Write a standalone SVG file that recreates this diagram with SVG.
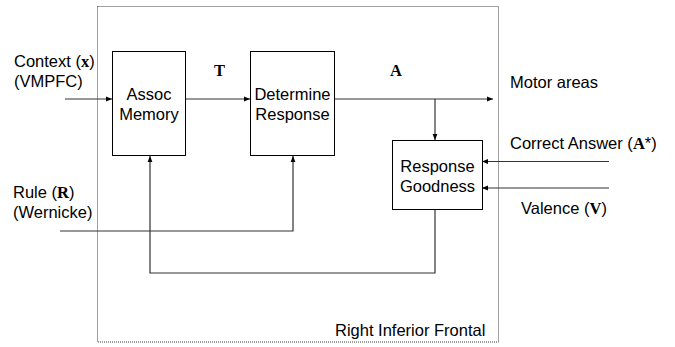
<svg xmlns="http://www.w3.org/2000/svg" width="675" height="347" viewBox="0 0 675 347">
<style>
.t{font-family:"Liberation Sans",Arial,sans-serif;font-size:16.5px;fill:#000}
.b{font-family:"Liberation Serif","Times New Roman",serif;font-weight:bold}
.box{fill:#fff;stroke:#000;stroke-width:1}
.ln{fill:none;stroke:#333;stroke-width:1.2}
</style>
<defs>
<marker id="ah" viewBox="0 0 10 10" refX="10" refY="5" markerWidth="6" markerHeight="6" markerUnits="userSpaceOnUse" orient="auto">
<path d="M0,1 L10,5 L0,9 Z" fill="#000"/>
</marker>
</defs>
<rect id="frame" x="97.5" y="6.5" width="401" height="335.5" fill="none" stroke="#444" stroke-width="1" stroke-dasharray="1,1"/>
<text class="t" x="335" y="336">Right Inferior Frontal</text>
<g id="connectors">
<line class="ln" x1="65" y1="99" x2="112" y2="99" marker-end="url(#ah)"/>
<line class="ln" x1="186" y1="99" x2="250" y2="99" marker-end="url(#ah)"/>
<line class="ln" x1="334" y1="99" x2="493" y2="99" marker-end="url(#ah)"/>
<line class="ln" x1="435" y1="99" x2="435" y2="140" marker-end="url(#ah)"/>
<line class="ln" x1="609" y1="161.5" x2="482" y2="161.5" marker-end="url(#ah)"/>
<line class="ln" x1="609" y1="188" x2="482" y2="188" marker-end="url(#ah)"/>
<polyline class="ln" points="60,231 293,231 293,156" marker-end="url(#ah)"/>
<polyline class="ln" points="435,209 435,273 150,273 150,156" marker-end="url(#ah)"/>
</g>
<g id="assoc">
<rect class="box" x="112.5" y="51.5" width="73" height="104"/>
<text class="t" x="149" y="100" text-anchor="middle">Assoc</text>
<text class="t" x="149" y="120" text-anchor="middle">Memory</text>
</g>
<g id="determine">
<rect class="box" x="250.5" y="51.5" width="84" height="104"/>
<text class="t" x="292.5" y="100" text-anchor="middle">Determine</text>
<text class="t" x="292.5" y="120" text-anchor="middle">Response</text>
</g>
<g id="goodness">
<rect class="box" x="392.5" y="140.5" width="90" height="69"/>
<text class="t" x="437.5" y="172" text-anchor="middle">Response</text>
<text class="t" x="437.5" y="192" text-anchor="middle">Goodness</text>
</g>
<g id="labels">
<text class="t" x="14" y="67">Context (<tspan class="b">x</tspan>)</text>
<text class="t" x="14" y="87">(VMPFC)</text>
<text class="t" x="13" y="198">Rule (<tspan class="b">R</tspan>)</text>
<text class="t" x="13" y="218">(Wernicke)</text>
<text class="t b" x="214" y="76">T</text>
<text class="t b" x="390" y="76">A</text>
<text class="t" x="510" y="88">Motor areas</text>
<text class="t" x="510" y="149">Correct Answer (<tspan class="b">A</tspan>*)</text>
<text class="t" x="521" y="214">Valence (<tspan class="b">V</tspan>)</text>
</g>
</svg>
